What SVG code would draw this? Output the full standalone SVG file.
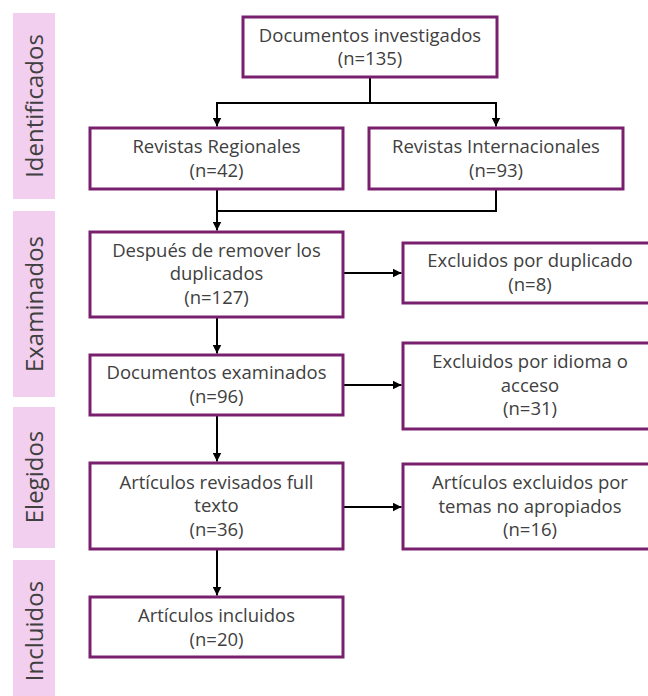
<svg xmlns="http://www.w3.org/2000/svg" width="648" height="696" viewBox="0 0 648 696">
<style>
.bar{fill:#F2CEEF}
.box{fill:#fff;stroke:#78206E;stroke-width:3}
.t{font-family:"Open Sans","Liberation Sans",sans-serif;font-size:18.5px;fill:#404040;text-anchor:middle}
.s{font-family:"Open Sans","Liberation Sans",sans-serif;font-size:24px;fill:#404040;text-anchor:middle}
.c{fill:none;stroke:#000;stroke-width:2}
</style>
<defs>
<marker id="ah" markerUnits="userSpaceOnUse" markerWidth="9" markerHeight="9" refX="9" refY="4.5" orient="auto">
<path d="M0,0 L9,4.5 L0,9 z" fill="#000"/>
</marker>
</defs>
<rect width="648" height="696" fill="#fff"/>
<g id="phases">
<g id="phase-identificados"><rect class="bar" x="13" y="13" width="42" height="186"/><text class="s" transform="translate(43,106) rotate(-90)">Identificados</text></g>
<g id="phase-examinados"><rect class="bar" x="13" y="211" width="42" height="186"/><text class="s" transform="translate(43,304) rotate(-90)">Examinados</text></g>
<g id="phase-elegidos"><rect class="bar" x="13" y="407" width="42" height="141"/><text class="s" transform="translate(43,477) rotate(-90)">Elegidos</text></g>
<g id="phase-incluidos"><rect class="bar" x="13" y="560" width="42" height="146"/><text class="s" transform="translate(43,631) rotate(-90)">Incluidos</text></g>
</g>
<g id="connectors">
<path class="c" d="M370,77 V103 M217,103 H496"/>
<path class="c" d="M217,102 V126.5" marker-end="url(#ah)"/>
<path class="c" d="M496,102 V126.5" marker-end="url(#ah)"/>
<path class="c" d="M496,189 V211 H216"/>
<path class="c" d="M217,189 V230.5" marker-end="url(#ah)"/>
<path class="c" d="M217,317 V353.5" marker-end="url(#ah)"/>
<path class="c" d="M217,415 V461.5" marker-end="url(#ah)"/>
<path class="c" d="M217,549 V595.5" marker-end="url(#ah)"/>
<path class="c" d="M343,273 H401.5" marker-end="url(#ah)"/>
<path class="c" d="M343,385 H401.5" marker-end="url(#ah)"/>
<path class="c" d="M343,507 H401.5" marker-end="url(#ah)"/>
</g>
<g id="n-investigados"><rect class="box" x="243" y="17" width="254" height="60"/><text class="t" x="370" y="41.5">Documentos investigados</text><text class="t" x="370" y="65">(n=135)</text></g>
<g id="n-regionales"><rect class="box" x="90" y="128" width="253" height="61"/><text class="t" x="216.5" y="153">Revistas Regionales</text><text class="t" x="216.5" y="176.5">(n=42)</text></g>
<g id="n-internacionales"><rect class="box" x="369" y="128" width="254" height="61"/><text class="t" x="496" y="153">Revistas Internacionales</text><text class="t" x="496" y="176.5">(n=93)</text></g>
<g id="n-duplicados"><rect class="box" x="90" y="232" width="253" height="85"/><text class="t" x="216.5" y="256.5">Después de remover los</text><text class="t" x="216.5" y="280">duplicados</text><text class="t" x="216.5" y="303.5">(n=127)</text></g>
<g id="n-excl-dup"><rect class="box" x="403" y="243" width="256" height="60"/><text class="t" x="530" y="267">Excluidos por duplicado</text><text class="t" x="530" y="290.5">(n=8)</text></g>
<g id="n-examinados"><rect class="box" x="90" y="355" width="253" height="60"/><text class="t" x="216.5" y="379">Documentos examinados</text><text class="t" x="216.5" y="402.5">(n=96)</text></g>
<g id="n-excl-idioma"><rect class="box" x="403" y="343" width="256" height="86"/><text class="t" x="530" y="368">Excluidos por idioma o</text><text class="t" x="530" y="391.5">acceso</text><text class="t" x="530" y="415">(n=31)</text></g>
<g id="n-revisados"><rect class="box" x="90" y="463" width="253" height="86"/><text class="t" x="216.5" y="488.5">Artículos revisados full</text><text class="t" x="216.5" y="512">texto</text><text class="t" x="216.5" y="535.5">(n=36)</text></g>
<g id="n-excl-temas"><rect class="box" x="403" y="464" width="256" height="85"/><text class="t" x="530" y="489">Artículos excluidos por</text><text class="t" x="530" y="512.5">temas no apropiados</text><text class="t" x="530" y="536">(n=16)</text></g>
<g id="n-incluidos"><rect class="box" x="90" y="597" width="253" height="60"/><text class="t" x="216.5" y="622">Artículos incluidos</text><text class="t" x="216.5" y="645.5">(n=20)</text></g>
</svg>
